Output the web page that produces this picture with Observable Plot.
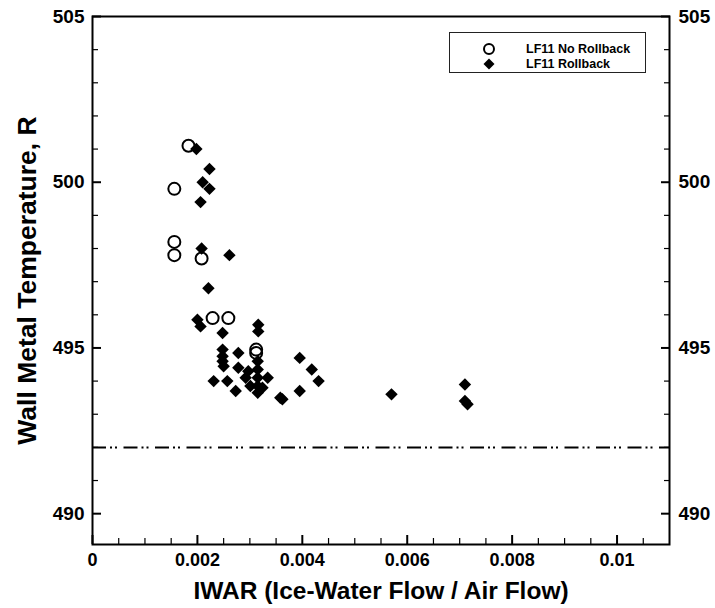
<!DOCTYPE html>
<html>
<head>
<meta charset="utf-8">
<script src="https://cdn.jsdelivr.net/npm/d3@7"></script>
<script src="https://cdn.jsdelivr.net/npm/@observablehq/plot@0.6"></script>
<style>
  html, body { margin: 0; padding: 0; background: #fff; }
  #wrap { position: relative; width: 715px; height: 608px; font-family: "Liberation Sans", Arial, sans-serif; }
  #legend { position: absolute; left: 449px; top: 32px; width: 197px; height: 41px; border: 1.5px solid #222; background: #fff; box-sizing: border-box; }
  #legend .row { position: absolute; left: 0; height: 16px; display: flex; align-items: center; font-weight: bold; font-size: 12.5px; color: #000; white-space: nowrap; }
  #legend svg { margin-left: 31px; margin-right: 29px; }
</style>
</head>
<body>
<div id="wrap"></div>
<script>
// ---- data ----
const seriesNames = ["LF11 No Rollback", "LF11 Rollback"];

const noRollbackX = [0.00183, 0.00156, 0.00156, 0.00156, 0.00208, 0.00229, 0.00259, 0.00312, 0.00312];
const noRollbackY = [501.1, 499.8, 498.2, 497.8, 497.7, 495.9, 495.9, 494.95, 494.85];

const rollbackX = [0.00198, 0.00223, 0.00210, 0.00223, 0.00206, 0.00208, 0.00261, 0.00221, 0.00200, 0.00206,
                   0.00248, 0.00316, 0.00316, 0.00248, 0.00248, 0.00248, 0.00250, 0.00278, 0.00278, 0.00231,
                   0.00257, 0.00273, 0.00292, 0.00297, 0.00301, 0.00315, 0.00315, 0.00315, 0.00315, 0.00315,
                   0.00334, 0.00324, 0.00358, 0.00362, 0.00395, 0.00418, 0.00431, 0.00395, 0.00570, 0.00710,
                   0.00710, 0.00715];
const rollbackY = [501.0, 500.4, 500.0, 499.8, 499.4, 498.0, 497.8, 496.8, 495.85, 495.65,
                   495.45, 495.7, 495.5, 494.95, 494.75, 494.6, 494.45, 494.85, 494.4, 494.0,
                   494.0, 493.7, 494.1, 494.3, 493.85, 494.6, 494.35, 494.1, 493.85, 493.65,
                   494.1, 493.8, 493.5, 493.45, 494.7, 494.35, 494.0, 493.7, 493.6, 493.9,
                   493.4, 493.3];

const limitY = [492];

const xMajorTicks = [0, 0.002, 0.004, 0.006, 0.008, 0.01];
const xTickLabels = ["0", "0.002", "0.004", "0.006", "0.008", "0.01"];
const xMinorTicks = [0.0005, 0.001, 0.0015, 0.0025, 0.003, 0.0035, 0.0045, 0.005, 0.0055, 0.0065, 0.007, 0.0075, 0.0085, 0.009, 0.0095, 0.0105];
const yMajorTicks = [490, 495, 500, 505];
const yTickLabels = ["490", "495", "500", "505"];
const yMinorTicks = [491, 492, 493, 494, 496, 497, 498, 499, 501, 502, 503, 504];

const xTitle = "IWAR (Ice-Water Flow / Air Flow)";
const yTitle = "Wall Metal Temperature, R";

// ---- build tables ----
const noRollback = noRollbackX.map((x, i) => ({x, y: noRollbackY[i]}));
const rollback = rollbackX.map((x, i) => ({x, y: rollbackY[i]}));

const majorLen = -9, minorLen = -6;
const txt = {fontWeight: "bold", fill: "#000"};

const chart = Plot.plot({
  width: 715,
  height: 608,
  marginLeft: 92,
  marginRight: 46,
  marginTop: 16,
  marginBottom: 64,
  x: {domain: [0, 0.011]},
  y: {domain: [489.07, 505]},
  style: {fontFamily: "'Liberation Sans', Arial, sans-serif", fontWeight: "bold", fontSize: "18px", color: "#000", background: "#fff"},
  marks: [
    Plot.ruleY(limitY, {stroke: "#000", strokeWidth: 2, strokeDasharray: "14,4,2,3,2,6.5"}),
    Plot.dot(noRollback, {x: "x", y: "y", r: 6, stroke: "#000", strokeWidth: 2, fill: "none"}),
    Plot.dot(rollback, {x: "x", y: "y", symbol: "diamond2", r: 5.6, fill: "#000", stroke: "none"}),
    // tick marks (inward)
    Plot.axisX({anchor: "bottom", ticks: xMinorTicks, tickSize: minorLen, text: null, label: null, strokeWidth: 1.2}),
    Plot.axisX({anchor: "bottom", ticks: xMajorTicks, tickSize: majorLen, text: null, label: null, strokeWidth: 2}),
    Plot.axisY({anchor: "left", ticks: yMinorTicks, tickSize: minorLen, text: null, label: null, strokeWidth: 1.2}),
    Plot.axisY({anchor: "left", ticks: yMajorTicks, tickSize: majorLen, text: null, label: null, strokeWidth: 2}),
    Plot.axisY({anchor: "right", ticks: yMinorTicks, tickSize: minorLen, text: null, label: null, strokeWidth: 1.2}),
    Plot.axisY({anchor: "right", ticks: yMajorTicks, tickSize: majorLen, text: null, label: null, strokeWidth: 2}),
    // tick labels
    Plot.text(xMajorTicks, {x: d => d, frameAnchor: "bottom", lineAnchor: "middle", textAnchor: "middle", dy: 16,
                            text: (d, i) => xTickLabels[i], fontSize: 18, ...txt}),
    Plot.text(yMajorTicks, {y: d => d, frameAnchor: "left", textAnchor: "end", lineAnchor: "middle", dx: -8,
                            text: (d, i) => yTickLabels[i], fontSize: 19, ...txt}),
    Plot.text(yMajorTicks, {y: d => d, frameAnchor: "right", textAnchor: "start", lineAnchor: "middle", dx: 9,
                            text: (d, i) => yTickLabels[i], fontSize: 19, ...txt}),
    Plot.frame({stroke: "#000", strokeWidth: 2}),
    Plot.text([yTitle], {text: d => d, frameAnchor: "left", textAnchor: "middle", lineAnchor: "middle", rotate: -90, dx: -65, fontSize: 26.5, ...txt}),
    Plot.text([xTitle], {text: d => d, frameAnchor: "bottom", textAnchor: "middle", lineAnchor: "middle", dy: 47, fontSize: 24.5, ...txt})
  ]
});

const wrap = document.getElementById("wrap");
wrap.appendChild(chart);

// legend overlay
const legend = document.createElement("div");
legend.id = "legend";
const rows = [
  {name: seriesNames[0], top: 8, sym: '<circle cx="8" cy="8" r="5" fill="none" stroke="#000" stroke-width="2"/>'},
  {name: seriesNames[1], top: 23, sym: '<path d="M8,2.5 L13.5,8 L8,13.5 L2.5,8 Z" fill="#000"/>'}
];
rows.forEach(r => {
  const row = document.createElement("div");
  row.className = "row";
  row.style.top = r.top + "px";
  row.innerHTML = `<svg width="16" height="16" viewBox="0 0 16 16">${r.sym}</svg><span>${r.name}</span>`;
  legend.appendChild(row);
});
wrap.appendChild(legend);
</script>
</body>
</html>
